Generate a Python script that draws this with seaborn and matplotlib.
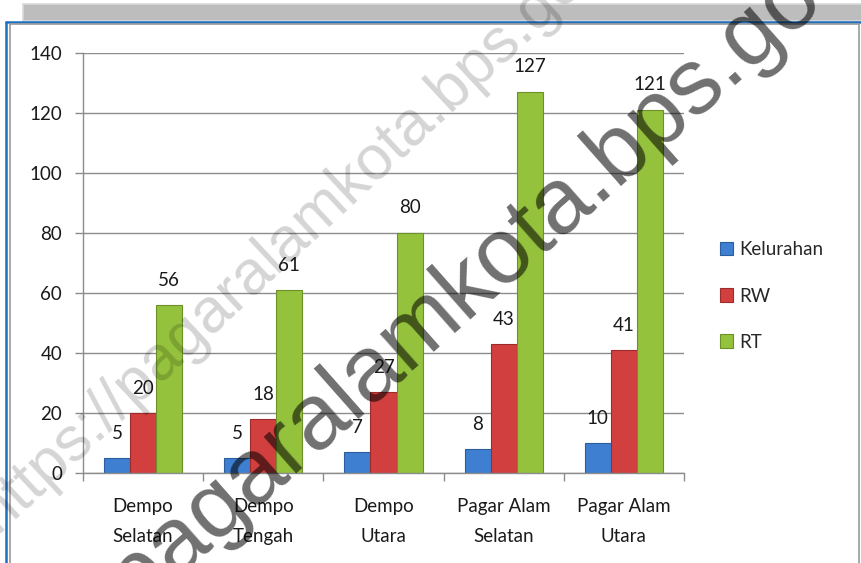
import matplotlib
matplotlib.use("Agg")
import matplotlib.pyplot as plt
import seaborn as sns
import pandas as pd
import numpy as np
from matplotlib.patches import Rectangle, Patch
from matplotlib.lines import Line2D

# ---- data ----
categories = ["Dempo\nSelatan", "Dempo\nTengah", "Dempo\nUtara", "Pagar Alam\nSelatan", "Pagar Alam\nUtara"]
series_names = ["Kelurahan", "RW", "RT"]
kelurahan = [5, 5, 7, 8, 10]
rw = [20, 18, 27, 43, 41]
rt = [56, 61, 80, 127, 121]
y_ticks = [0, 20, 40, 60, 80, 100, 120, 140]
watermark = "https://pagaralamkota.bps.go.id"

W, H = 862, 563
sns.set_theme(style="white")
plt.rcParams['font.family'] = ['Lato', 'DejaVu Sans']

df = pd.DataFrame({
    "desa": categories * 3,
    "seri": [s for s in series_names for _ in categories],
    "nilai": kelurahan + rw + rt,
})

face = {"Kelurahan": "#3f7fd1", "RW": "#d23f3f", "RT": "#95c23d"}
edge = {"Kelurahan": "#2c5c9e", "RW": "#9c2b2b", "RT": "#6e9028"}

fig = plt.figure(figsize=(W / 100, H / 100), dpi=100)
fig.patch.set_facecolor("white")

def fx(x):
    return x / W

def fy(y):
    return 1 - y / H

ax = fig.add_axes([fx(83), fy(473), fx(684) - fx(83), fy(52.5) - fy(473)])
sns.barplot(data=df, x="desa", y="nilai", hue="seri", palette=face, width=0.65,
            gap=0, saturation=1, legend=False, ax=ax, order=categories,
            hue_order=series_names)

for cont, name in zip(ax.containers, series_names):
    for p in cont:
        p.set_edgecolor(edge[name])
        p.set_linewidth(0.8)
    ax.bar_label(cont, padding=11.7, fontsize=13.5, color="#1a1a1a")

ax.set_ylim(0, 140)
ax.set_xlim(-0.5, len(categories) - 0.5)
ax.set_yticks(y_ticks)
ax.set_yticklabels([str(v) for v in y_ticks], fontsize=13.5, color="#1a1a1a")
ax.yaxis.grid(True, color="#8c8c8c", linewidth=1)
ax.set_axisbelow(True)
ax.tick_params(axis="y", which="major", direction="out", length=6, width=1,
               color="#8c8c8c", pad=9, left=True)

ax.set_xticks(np.arange(-0.5, len(categories), 1.0))
ax.set_xticklabels([])
ax.tick_params(axis="x", which="major", direction="out", length=6, width=1,
               color="#8c8c8c", bottom=True)
ax.set_xticks(np.arange(len(categories)), minor=True)
ax.set_xticklabels(categories, minor=True, fontsize=13.5, color="#1a1a1a",
                   linespacing=1.9)
ax.tick_params(axis="x", which="minor", length=0, pad=18)
ax.set_xlabel("")
ax.set_ylabel("")
for s in ["top", "right"]:
    ax.spines[s].set_visible(False)
for s in ["left", "bottom"]:
    ax.spines[s].set_color("#8c8c8c")
    ax.spines[s].set_linewidth(1)

handles = [Patch(facecolor=face[n], edgecolor=edge[n], linewidth=0.8, label=n)
           for n in series_names]
fig.legend(handles=handles, loc="center left", bbox_to_anchor=(fx(720), fy(296)),
           frameon=False, fontsize=13.5, handlelength=0.7, handleheight=0.7,
           handletextpad=0.35, labelspacing=1.55, borderpad=0, borderaxespad=0)

# ---- frame decorations ----
fig.add_artist(Rectangle((fx(23), fy(21)), fx(862) - fx(23), fy(4.5) - fy(21),
                         transform=fig.transFigure, facecolor="#bdbdbd",
                         edgecolor="#d9d9d9", linewidth=1.2, zorder=1))
fig.add_artist(Line2D([fx(6.5), fx(862)], [fy(21.5), fy(21.5)], transform=fig.transFigure,
                      color="#1d6fc0", linewidth=1.8, zorder=2))
fig.add_artist(Line2D([fx(6.5), fx(6.5)], [fy(21.5), fy(563)], transform=fig.transFigure,
                      color="#1d6fc0", linewidth=1.8, zorder=2))
fig.add_artist(Line2D([fx(9.8), fx(859.5)], [fy(24.3), fy(24.3)], transform=fig.transFigure,
                      color="#9a9a9a", linewidth=1.2, zorder=2))
fig.add_artist(Line2D([fx(9.8), fx(9.8)], [fy(24.3), fy(563)], transform=fig.transFigure,
                      color="#9a9a9a", linewidth=1.2, zorder=2))
fig.add_artist(Line2D([fx(859.5), fx(859.5)], [fy(24.3), fy(563)], transform=fig.transFigure,
                      color="#9a9a9a", linewidth=1.2, zorder=2))

# ---- watermark ----
fig.text(fx(316), fy(236), watermark, fontsize=45, family="Liberation Sans",
         color="black", alpha=0.17, rotation=43, rotation_mode="anchor",
         ha="center", va="baseline", zorder=10)
fig.text(fx(413), fy(365), watermark, fontsize=67, family="Liberation Sans",
         color="black", alpha=0.56, rotation=41.5, rotation_mode="anchor",
         ha="center", va="baseline", zorder=10)

fig.savefig("out.png", dpi=100)
